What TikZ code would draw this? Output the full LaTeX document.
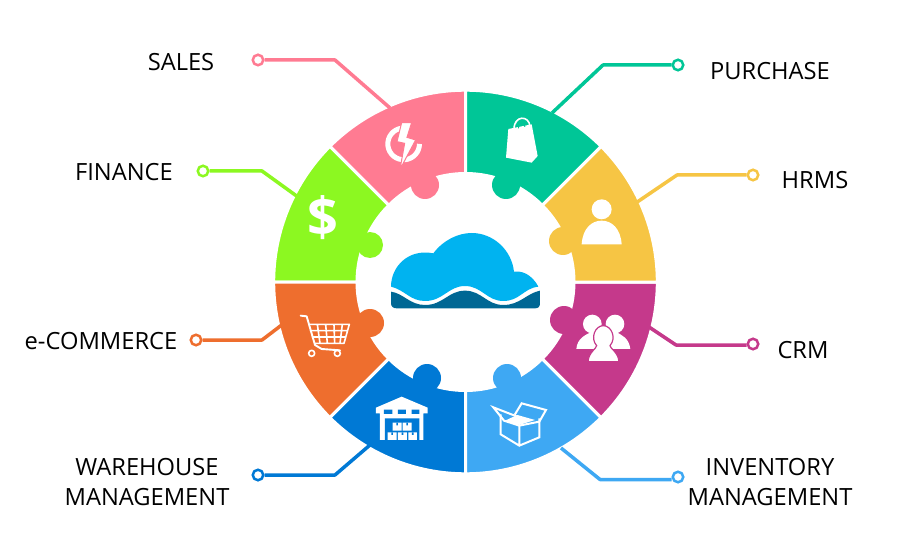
\documentclass[tikz,border=0pt]{standalone}
\usepackage{fontspec}
\setmainfont{Open Sans}
\usetikzlibrary{backgrounds}
\usetikzlibrary{calc,positioning}

\definecolor{salescol}{HTML}{FF7B92}
\definecolor{financecol}{HTML}{8CF821}
\definecolor{commercecol}{HTML}{EE6E2E}
\definecolor{warehousecol}{HTML}{0079D5}
\definecolor{inventorycol}{HTML}{3EA8F3}
\definecolor{crmcol}{HTML}{C5398B}
\definecolor{hrmscol}{HTML}{F6C544}
\definecolor{purchasecol}{HTML}{00C697}
\definecolor{cloudcol}{HTML}{00B3F0}
\definecolor{seacol}{HTML}{006794}

\tikzset{
    ringpart/.style={insert path={
        ([shift={(#1:191.8)}]hub) arc[start angle=#1,delta angle=45,radius=191.8]
        -- ([shift={(#1+45:108.5)}]hub) arc[start angle=#1+45,delta angle=-45,radius=108.5]
        -- cycle}},
    piece/.style={draw=white,line width=3pt,line join=miter},
    wire/.style={line width=3.5pt,line join=round},
    pin/.style={circle,draw,fill=white,line width=2.5pt,minimum size=10.5pt,inner sep=0pt},
    lbl/.style={font=\fontsize{23.7}{30}\selectfont,align=center,inner sep=0pt},
    icon/.style={white,line width=#1,line join=round,line cap=round},
    icon/.default=1.3pt,
}

\begin{document}
\begin{tikzpicture}[x=1pt,y=1pt,
    show background rectangle,
    tight background=0,
    background rectangle/.style={fill=white},
 ]
    \useasboundingbox (0,0) rectangle (900,550);
    \coordinate (hub) at (465.5,268);

    % ring
    \filldraw[piece,fill=salescol,ringpart=90];
    \filldraw[piece,fill=financecol,ringpart=135];
    \filldraw[piece,fill=commercecol,ringpart=180];
    \filldraw[piece,fill=warehousecol,ringpart=225];
    \filldraw[piece,fill=inventorycol,ringpart=270];
    \filldraw[piece,fill=crmcol,ringpart=315];
    \filldraw[piece,fill=hrmscol,ringpart=0];
    \filldraw[piece,fill=purchasecol,ringpart=45];

    \fill[salescol] (425,365) circle (14);
    \fill[purchasecol] (506,365) circle (14);
    \fill[hrmscol] (563,309) circle (14);
    \fill[financecol] (370,305) circle (13);
    \fill[commercecol] (370,227) circle (14);
    \fill[crmcol] (564,230) circle (14);
    \fill[warehousecol] (427,172) circle (14);
    \fill[inventorycol] (507,172) circle (14);

    % leader lines
    \node[pin,draw=salescol] (salespin) at (258,490) {};
    \coordinate (salesbend) at (335,490);
    \coordinate (salesend) at (390,442);
    \draw[wire,salescol] (salespin) -- (salesbend) -- (salesend);

    \node[pin,draw=purchasecol] (purchasepin) at (678,485) {};
    \coordinate (purchasebend) at (603,485);
    \coordinate (purchaseend) at (552,437);
    \draw[wire,purchasecol] (purchasepin) -- (purchasebend) -- (purchaseend);

    \node[pin,draw=hrmscol] (hrmspin) at (753,375) {};
    \coordinate (hrmsbend) at (677,375);
    \coordinate (hrmsend) at (635,346.5);
    \draw[wire,hrmscol] (hrmspin) -- (hrmsbend) -- (hrmsend);

    \node[pin,draw=financecol] (financepin) at (203,379) {};
    \coordinate (financebend) at (262,379);
    \coordinate (financeend) at (298,353);
    \draw[wire,financecol] (financepin) -- (financebend) -- (financeend);

    \node[pin,draw=commercecol] (commercepin) at (196,210) {};
    \coordinate (commercebend) at (262,210);
    \coordinate (commerceend) at (283,226);
    \draw[wire,commercecol] (commercepin) -- (commercebend) -- (commerceend);

    \node[pin,draw=crmcol] (crmpin) at (753,206) {};
    \coordinate (crmbend) at (676,205);
    \coordinate (crmend) at (649,223);
    \draw[wire,crmcol] (crmbend -| crmpin.west) -- (crmbend) -- (crmend);

    \node[pin,draw=warehousecol] (warehousepin) at (258,75) {};
    \coordinate (warehousebend) at (335,75);
    \coordinate (warehouseend) at (370,105);
    \draw[wire,warehousecol] (warehousepin) -- (warehousebend) -- (warehouseend);

    \node[pin,draw=inventorycol] (inventorypin) at (678,73) {};
    \coordinate (inventorybend) at (600,70.5);
    \coordinate (inventoryend) at (561,102);
    \draw[wire,inventorycol] (inventorybend -| inventorypin.west) -- (inventorybend) -- (inventoryend);

    % labels
    \node[lbl] (sales) at (181,488) {SALES};
    \node[lbl] (purchase) at (770,479) {PURCHASE};
    \node[lbl] (hrms) at (815,370) {HRMS};
    \node[lbl] (finance) at (124,378) {FINANCE};
    \node[lbl] (commerce) at (101,209) {e-COMMERCE};
    \node[lbl] (crm) at (803,200) {CRM};
    \node[lbl] (warehouse) at (147,68) {WAREHOUSE\\MANAGEMENT};
    \node[lbl] (inventory) at (770,68) {INVENTORY\\MANAGEMENT};
    \node[font=\fontsize{54}{54}\bfseries\selectfont,text=white,inner sep=0pt] (dollar) at (323,332) {\$};

    % top left icons
    \begin{scope}[shift={(260,470)},x=0.3333pt,y=-0.3333pt]
        \draw[icon=5pt,line cap=butt] (426,144.5) arc[start angle=-96,delta angle=-264,radius=47.5];
        \filldraw[white,draw=salescol,line width=1pt,line join=miter]
            (425,128) -- (455,128) -- (441,172) -- (467,180)
            -- (420,268) -- (434,190) -- (411,185) -- cycle;
    \end{scope}

    % top right icons
    \begin{scope}[shift={(460,470)},x=0.3333pt,y=-0.3333pt]
        \fill[white] (145,147) -- (215,133) -- (233,228) -- (215,248) -- (138,233) -- cycle;
        \draw[icon=1.6pt] (162,148) .. controls (162,105) and (208,105) .. (210,140);
        \draw[purchasecol,line width=1pt] (175,145) .. controls (178,125) and (192,125) .. (195,140);
        \fill[white] (425,388) circle (30);
        \fill[white] (365,493) .. controls (368,445) and (395,422) .. (425,422)
            .. controls (455,422) and (482,445) .. (485,493) -- cycle;
    \end{scope}

    % bottom left icons
    \begin{scope}[shift={(260,275)},x=0.3333pt,y=-0.3333pt]
        \draw[icon=1.9pt] (122,122) -- (140,124) -- (165,210) -- (185,222) -- (240,226);
        \draw[icon=1.6pt,line cap=butt] (145,148) -- (268,148) -- (252,205) -- (165,205)
            (150,167) -- (263,167) (156,186) -- (258,186)
            (172,148) -- (180,205) (197,148) -- (202,205) (222,148) -- (224,205) (247,148) -- (240,205);
        \draw[icon=1.6pt] (155,235) circle (9) (232,235) circle (9);
        \fill[white] (348,398) -- (425,365) -- (503,398) -- (503,415) -- (490,415)
            -- (490,495) -- (360,495) -- (360,415) -- (348,415) -- cycle;
        \fill[warehousecol] (372,404) rectangle (397,417)
            (414,404) rectangle (438,417) (455,404) rectangle (478,417)
            (375,430) rectangle (478,495);
        \fill[white] (383,472) rectangle (410,495) (414,472) rectangle (441,495)
            (445,472) rectangle (471,495) (398,443) rectangle (425,467) (428,443) rectangle (455,467);
        \fill[warehousecol] (394,472) rectangle (399,480) (425,472) rectangle (430,480)
            (456,472) rectangle (461,480) (409,443) rectangle (414,451) (439,443) rectangle (444,451);
    \end{scope}

    % bottom right icons
    \begin{scope}[shift={(460,275)},x=0.3333pt,y=-0.3333pt]
        \draw[icon=2pt,line cap=butt,line join=miter] (122,418) -- (122,478) -- (178,512) -- (238,487) -- (238,430)
            (178,452) -- (178,512);
        \draw[icon=2pt,line cap=butt,line join=miter] (178,452) -- (132,437) -- (100,397) -- (172,425)
            (165,418) -- (185,385) -- (258,405) -- (238,440) -- (178,452);
        \fill[white] (135,437) -- (172,420) -- (225,435) -- (178,450) -- cycle;
        \fill[white] (397,147) circle (28) (465,147) circle (28);
        \fill[white] (349,222) .. controls (352,190) and (375,180) .. (397,170)
            -- (465,170) .. controls (487,180) and (507,190) .. (511,222) -- cycle;
        \filldraw[white,draw=crmcol,line width=1.2pt] (384,260) .. controls (386,232) and (410,220) .. (410,212)
            .. controls (390,190) and (405,152) .. (430,152)
            .. controls (455,152) and (470,190) .. (450,212)
            .. controls (450,220) and (475,232) .. (477,260) -- cycle;
    \end{scope}

    % cloud
    \begin{scope}[shift={(380,325)},x=0.3333pt,y=-0.3333pt]
        \fill[cloudcol] (33,185) .. controls (33,125) and (85,70) .. (160,85)
            .. controls (190,45) and (235,24) .. (275,24)
            .. controls (340,24) and (395,75) .. (402,140)
            .. controls (440,135) and (465,165) .. (475,185)
            .. controls (430,190) and (420,228) .. (370,228)
            .. controls (320,228) and (305,183) .. (255,183)
            .. controls (205,183) and (190,228) .. (135,228)
            .. controls (90,228) and (75,195) .. (33,185) -- cycle;
        \fill[seacol] (33,200) .. controls (70,205) and (90,240) .. (135,240)
            .. controls (190,240) and (205,197) .. (255,197)
            .. controls (305,197) and (320,240) .. (370,240)
            .. controls (420,240) and (440,205) .. (480,197)
            -- (480,235) .. controls (480,245) and (475,250) .. (465,250)
            -- (50,250) .. controls (40,250) and (33,245) .. (33,235) -- cycle;
    \end{scope}
\end{tikzpicture}
\end{document}
